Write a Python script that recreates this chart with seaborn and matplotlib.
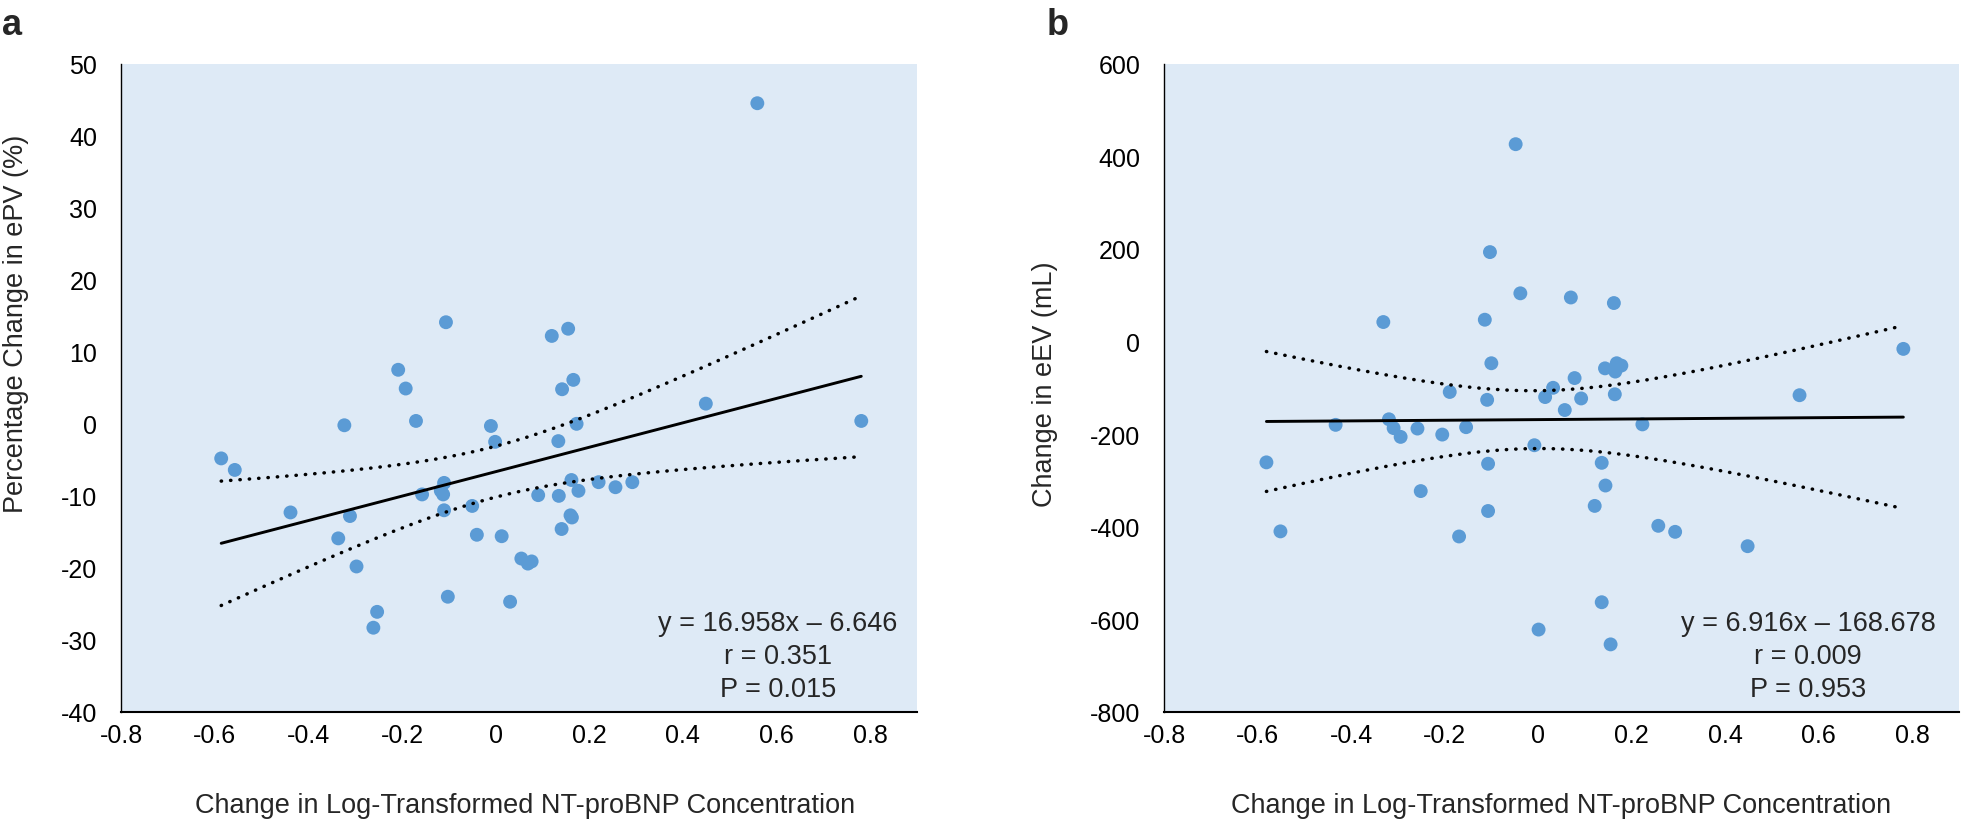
import numpy as np
import pandas as pd
import seaborn as sns
import matplotlib.pyplot as plt

# datos leidos de la figura
# panel a: cambio en log NT-proBNP vs % cambio en ePV
x_a = [-0.586, -0.557, -0.438, -0.336, -0.323, -0.311, -0.297, -0.261, -0.253, -0.208,
       -0.192, -0.170, -0.157, -0.110, -0.117, -0.112, -0.110, -0.106, -0.102, -0.050,
       -0.040, -0.010, -0.001, 0.013, 0.031, 0.055, 0.069, 0.077, 0.091, 0.120,
       0.134, 0.135, 0.141, 0.142, 0.155, 0.160, 0.163, 0.162, 0.166, 0.173,
       0.177, 0.220, 0.256, 0.292, 0.449, 0.559, 0.781]
y_a = [-4.8, -6.4, -12.3, -15.9, -0.2, -12.8, -19.8, -28.3, -26.1, 7.5,
       4.9, 0.4, -9.8, -8.2, -9.3, -9.8, -12.0, 14.1, -24.0, -11.4,
       -15.4, -0.3, -2.5, -15.6, -24.7, -18.7, -19.4, -19.1, -9.9, 12.2,
       -2.4, -10.0, -14.6, 4.8, 13.2, -12.7, -13.0, -7.8, 6.1, 0.0,
       -9.3, -8.1, -8.8, -8.1, 2.8, 44.5, 0.4]

# panel b: cambio en log NT-proBNP vs cambio en eEV (mL)
x_b = [-0.581, -0.551, -0.433, -0.331, -0.319, -0.309, -0.294, -0.258, -0.251, -0.205,
       -0.189, -0.169, -0.154, -0.114, -0.109, -0.107, -0.107, -0.103, -0.100, -0.048,
       -0.038, -0.008, 0.001, 0.015, 0.032, 0.057, 0.070, 0.078, 0.092, 0.121,
       0.136, 0.136, 0.143, 0.144, 0.155, 0.162, 0.164, 0.165, 0.168, 0.178,
       0.223, 0.257, 0.293, 0.448, 0.559, 0.781]
y_b = [-261, -410, -180, 42, -168, -187, -206, -188, -323, -201,
       -109, -421, -185, 47, -126, -264, -366, 193, -47, 426,
       104, -224, -622, -120, -100, -148, 95, -79, -123, -355,
       -262, -563, -58, -311, -654, 83, -114, -65, -47, -52,
       -179, -398, -411, -442, -116, -16]

# coeficientes publicados
coef_a = (16.958, -6.646)
coef_b = (6.916, -168.678)
stats_a = ["y = 16.958x \u2013 6.646", "r = 0.351", "P = 0.015"]
stats_b = ["y = 6.916x \u2013 168.678", "r = 0.009", "P = 0.953"]

ylabel_a = "Percentage Change in ePV (%)"
ylabel_b = "Change in eEV (mL)"
xlabel = "Change in Log-Transformed NT-proBNP Concentration"

sns.set_theme(style="white")
plt.rcParams["font.family"] = ["Liberation Sans", "DejaVu Sans"]

W, H = 1961, 828
fig = plt.figure(figsize=(W / 100, H / 100), dpi=100)


def fx(p):
    return p / W


def fy(p):
    return 1 - p / H


BG = "#DEEAF6"
DOT = "#5B9BD5"
T_CRIT = 2.01


def panel(rect, x, y, coef, ylim, yticks):
    ax = fig.add_axes(rect)
    ax.set_facecolor(BG)
    df = pd.DataFrame({"x": x, "y": y})
    sns.scatterplot(data=df, x="x", y="y", ax=ax, color=DOT, s=100,
                    edgecolor="none", linewidth=0, zorder=3)
    # recta de regresion y banda de confianza del 95 %
    xa = np.array(x)
    ya = np.array(y)
    b1, b0 = coef
    n = len(xa)
    res = ya - (b1 * xa + b0)
    s = np.sqrt(np.sum(res ** 2) / (n - 2))
    sxx = np.sum((xa - xa.mean()) ** 2)
    xg = np.linspace(xa.min(), xa.max(), 200)
    yg = b1 * xg + b0
    half = T_CRIT * s * np.sqrt(1 / n + (xg - xa.mean()) ** 2 / sxx)
    ax.plot(xg, yg, color="black", lw=2.1, zorder=4)
    for yy in (yg + half, yg - half):
        ax.plot(xg, yy, color="black", lw=2.5, zorder=4,
                linestyle=(0, (0.1, 2.6)), dash_capstyle="round")
    ax.set_xlim(-0.8, 0.9)
    ax.set_ylim(*ylim)
    ax.set_xticks(np.arange(-0.8, 0.81, 0.2))
    ax.set_xticklabels(["-0.8", "-0.6", "-0.4", "-0.2", "0", "0.2", "0.4", "0.6", "0.8"])
    ax.set_yticks(yticks)
    ax.set_yticklabels([str(t) for t in yticks])
    ax.set_xlabel("")
    ax.set_ylabel("")
    ax.tick_params(axis="both", length=0, labelsize=18, colors="black")
    ax.tick_params(axis="y", pad=17)
    ax.tick_params(axis="x", pad=8)
    for side in ("top", "right"):
        ax.spines[side].set_visible(False)
    ax.spines["left"].set_color("black")
    ax.spines["left"].set_linewidth(1.0)
    ax.spines["bottom"].set_color("black")
    ax.spines["bottom"].set_linewidth(1.5)
    return ax


top, bottom = 64.6, 713.0
ax_a = panel([fx(121), fy(bottom), fx(917) - fx(121), (bottom - top) / H],
             x_a, y_a, coef_a, (-40, 50), list(range(-40, 51, 10)))
ax_b = panel([fx(1164), fy(bottom), fx(1959) - fx(1164), (bottom - top) / H],
             x_b, y_b, coef_b, (-800, 600), list(range(-800, 601, 200)))

# textos de estadisticos
for cx, lines in ((778, stats_a), (1808, stats_b)):
    for base, txt in zip((630.7, 664.0, 696.7), lines):
        fig.text(fx(cx), fy(base), txt, ha="center", va="baseline", fontsize=19.5)

# etiquetas de ejes
fig.text(fx(525), fy(813), xlabel, ha="center", va="baseline", fontsize=19.5)
fig.text(fx(1561), fy(813), xlabel, ha="center", va="baseline", fontsize=19.5)
fig.text(fx(16), fy(324), ylabel_a, ha="center", va="center", rotation=90, fontsize=19.5)
fig.text(fx(1045), fy(384), ylabel_b, ha="center", va="center", rotation=90, fontsize=19.5)

# letras de panel
fig.text(fx(2), fy(35), "a", ha="left", va="baseline", fontsize=26, fontweight="bold")
fig.text(fx(1047), fy(35), "b", ha="left", va="baseline", fontsize=26, fontweight="bold")

plt.savefig("out.png", dpi=100)
